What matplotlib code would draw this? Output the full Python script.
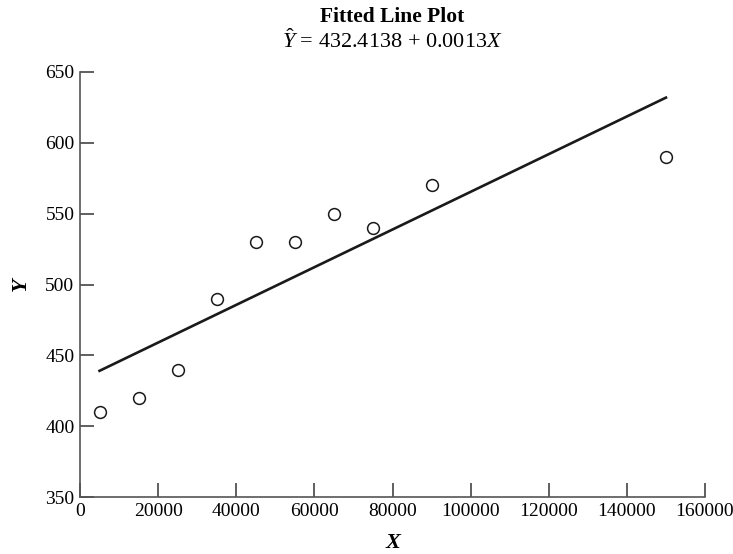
import matplotlib
matplotlib.use("Agg")
from matplotlib import pyplot as plt
import numpy as np

x = [5000, 15000, 25000, 35000, 45000, 55000, 65000, 75000, 90000, 150000]
y = [410, 420, 440, 490, 530, 530, 550, 540, 570, 590]
b0 = 432.4138
b1 = 0.00133
xticks = [0, 20000, 40000, 60000, 80000, 100000, 120000, 140000, 160000]
yticks = [350, 400, 450, 500, 550, 600, 650]

plt.rcParams['font.family'] = 'Liberation Serif'
plt.rcParams['mathtext.fontset'] = 'custom'
plt.rcParams['mathtext.rm'] = 'Liberation Serif'
plt.rcParams['mathtext.it'] = 'Liberation Serif:italic'

fig = plt.figure(figsize=(7.33, 5.54), dpi=100)
ax = fig.add_axes([80/733, 57/554, 625/733, 425/554])

xl = np.array([x[0], x[-1]])
ax.plot(xl, b0 + b1*xl, color='#1a1a1a', lw=1.9)
ax.plot(x, y, 'o', mfc='white', mec='#1a1a1a', ms=8.5, mew=1.1)

ax.set_xlim(0, 160000)
ax.set_ylim(350, 650)
ax.set_xticks(xticks)
ax.set_yticks(yticks)
ax.tick_params(direction='in', length=10, width=1.2, color='#444444',
               labelsize=14, pad=4)
for s in ['top', 'right']:
    ax.spines[s].set_visible(False)
for s in ['left', 'bottom']:
    ax.spines[s].set_color('#555555')
    ax.spines[s].set_linewidth(1.2)

ax.set_xlabel('X', fontsize=16, fontweight='bold', style='italic', labelpad=10)
ax.set_ylabel('Y', fontsize=16, fontweight='bold', style='italic', labelpad=10)

fig.text(392/733, 1 - 17/554, 'Fitted Line Plot', ha='center', va='center',
         fontsize=15.5, fontweight='bold')
fig.text(392/733, 1 - 41/554, r'$\hat{Y}$ = 432.4138 + 0.0013$X$',
         ha='center', va='center', fontsize=16)

fig.savefig('out.png', dpi=100)
